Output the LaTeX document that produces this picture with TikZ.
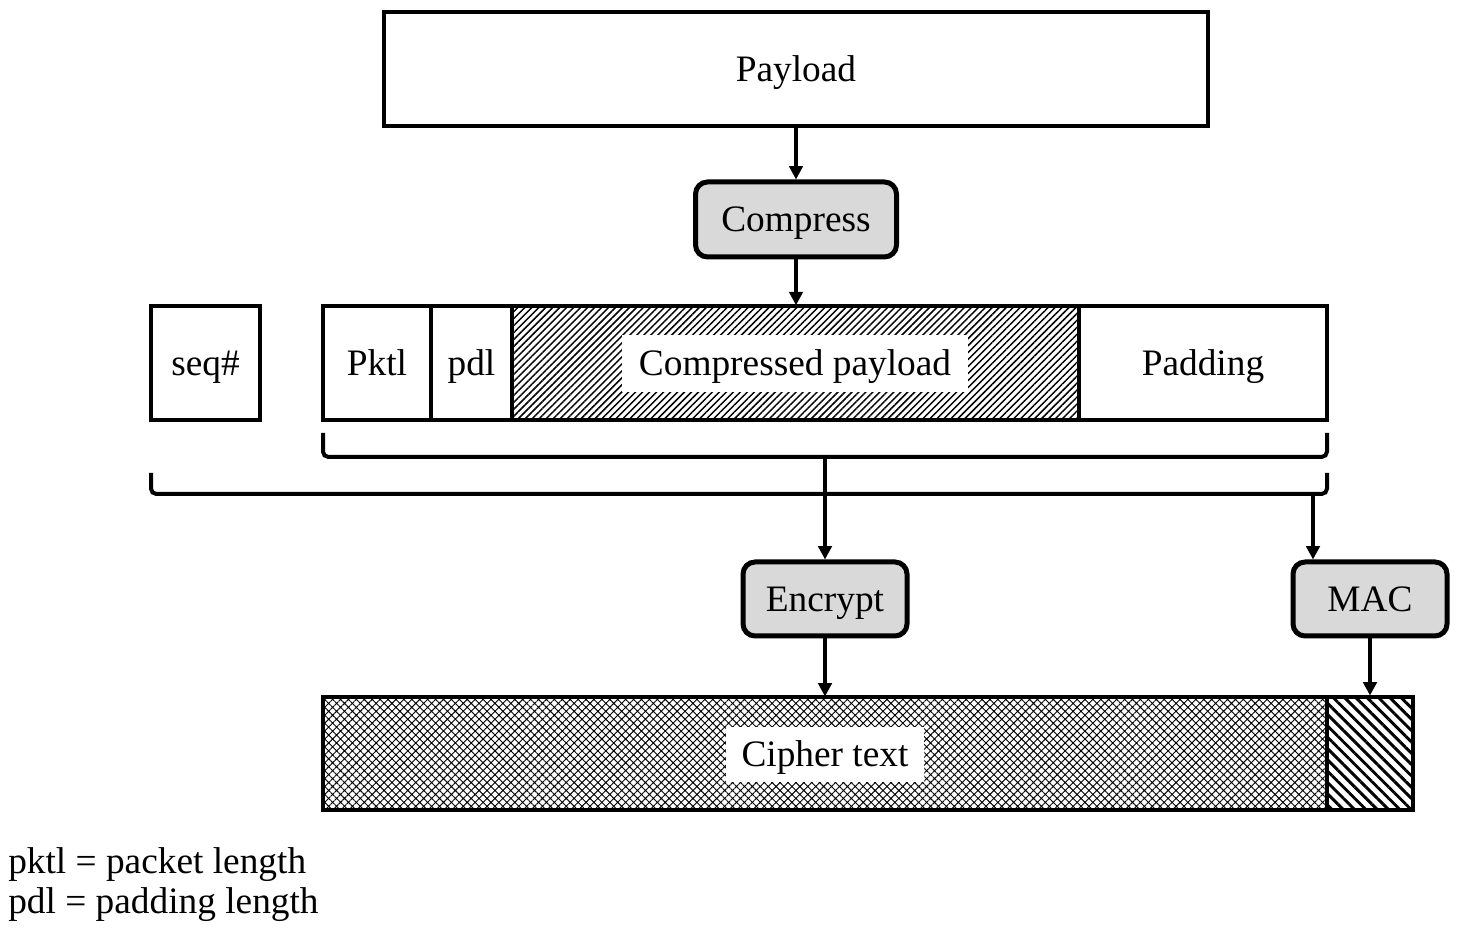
\documentclass[tikz,border=0pt]{standalone}
\usepackage{fontspec}
\setmainfont{Liberation Serif}
\usetikzlibrary{patterns.meta,arrows.meta}
\begin{document}
\begin{tikzpicture}[x=0.75pt,y=-0.75pt,
  font=\fontsize{28}{34}\selectfont,
  every node/.style={text height=18.5pt,text depth=0pt},
  box/.style={draw=black,line width=3.2pt,inner sep=0pt,minimum height=114*0.75pt},
  proc/.style={draw=black,line width=3.75pt,rounded corners=9pt,fill=gray!30,inner sep=0pt},
  lbl/.style={fill=white,inner sep=0pt},
  arr/.style={line width=3pt,-{Triangle[length=10pt,width=10pt]}},
  brace/.style={line width=3pt,rounded corners=4pt},
  fine/.style={pattern={Lines[angle=45,distance=3.7pt,line width=1.1pt]}},
  cross/.style={pattern={Hatch[angle=45,distance=4.2pt,line width=0.7pt]}},
  thick hatch/.style={pattern={Lines[angle=-45,distance=6pt,line width=2.2pt]}}]
\useasboundingbox (0,0) rectangle (1465,937);

\node[box,minimum width=824*0.75pt] (payload) at (796,69) {Payload};
\node[proc,minimum width=201*0.75pt,minimum height=75*0.75pt] (compress) at (796,219.5) {Compress};

\node[box,minimum width=109*0.75pt] (seq) at (205.5,363) {seq\#};
\node[box,minimum width=108*0.75pt] (pktl) at (377,363) {Pktl};
\node[box,minimum width=81*0.75pt] (pdl) at (471.5,363) {pdl};
\node[box,fine,minimum width=567*0.75pt] (cpay) at (795.5,363) {};
\node[lbl,minimum width=346*0.75pt,minimum height=57*0.75pt] (cpaylbl) at (795,363.5) {Compressed payload};
\node[box,minimum width=248*0.75pt] (padding) at (1203,363) {Padding};

\draw[brace] (323,433) -- (323,457) -- (1327,457) -- (1327,433);
\draw[brace] (151,473) -- (151,494) -- (1327,494) -- (1327,473);
\coordinate (b1) at (825,457);
\coordinate (b2) at (1313,494);

\node[proc,minimum width=164*0.75pt,minimum height=74*0.75pt] (encrypt) at (825,599) {Encrypt};
\node[proc,minimum width=154*0.75pt,minimum height=74*0.75pt] (mac) at (1370,599) {MAC};

\node[box,cross,minimum width=1004*0.75pt,minimum height=113*0.75pt] (cipher) at (825,753.5) {};
\node[lbl,minimum width=198*0.75pt,minimum height=55*0.75pt] (cipherlbl) at (825,754.5) {Cipher text};
\node[box,thick hatch,minimum width=86*0.75pt,minimum height=113*0.75pt] (macv) at (1370,753.5) {};

\draw[arr] (payload) -- (compress);
\draw[arr] (compress) -- (cpay.north -| compress);
\draw[arr] (b1) -- (encrypt);
\draw[arr] (b2) -- (b2 |- mac.north);
\draw[arr] (encrypt) -- (cipher.north -| encrypt);
\draw[arr] (mac) -- (macv);

\node[anchor=base west,inner sep=0pt] (leg1) at (8,873) {pktl = packet length};
\node[anchor=base west,inner sep=0pt] (leg2) at (8,913) {pdl = padding length};
\end{tikzpicture}
\end{document}
